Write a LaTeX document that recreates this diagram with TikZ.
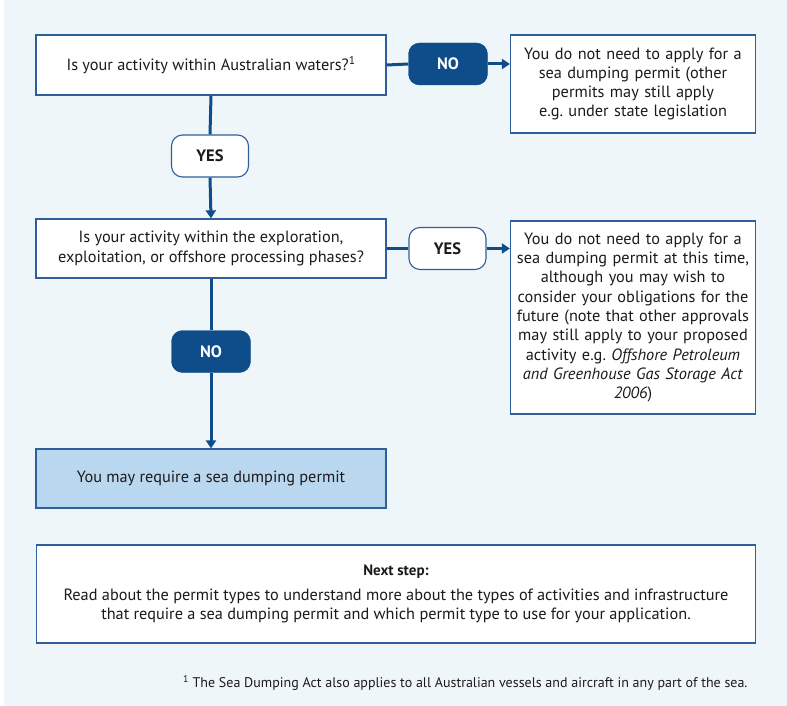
\documentclass[tikz,border=0pt]{standalone}
\usepackage{fontspec}
\setmainfont{PT Sans}
\usepackage{xcolor}
\usepackage{tikz}
\frenchspacing
\definecolor{navyblue}{RGB}{14, 77, 138}
\definecolor{edgeblue}{RGB}{47, 95, 154}
\definecolor{paleblue}{RGB}{239, 246, 250}
\definecolor{permitblue}{RGB}{185, 215, 238}
\definecolor{inktext}{RGB}{30, 26, 27}
\tikzset{
  qbox/.style={draw=edgeblue,fill=white,line width=1.3pt,minimum width=350pt,text=inktext,align=center,inner sep=0pt},
  ansbox/.style={draw=edgeblue,fill=white,line width=1.3pt,minimum width=245pt,text width=240pt,text=inktext,align=center,inner sep=0pt},
  darkpill/.style={fill=navyblue,draw=navyblue,text=white,rounded corners=11pt,minimum width=79pt,minimum height=42pt,font=\bfseries\fontsize{16.5}{18}\selectfont},
  lightpill/.style={fill=white,draw=edgeblue,line width=1.1pt,text=inktext,rounded corners=11pt,minimum width=77pt,minimum height=42pt,font=\bfseries\fontsize{16.5}{18}\selectfont},
  flow/.style={draw=navyblue,line width=3pt},
  flowarrow/.style={flow,-{Triangle[length=8pt,width=10pt]}}
}
\usetikzlibrary{arrows.meta}
\begin{document}
\begin{tikzpicture}[x=1pt,y=-1pt,font=\fontsize{16.3}{19.3}\selectfont]
    \useasboundingbox (0,0) rectangle (787,706);
    \fill[white] (0,0) rectangle (787,706);
    \fill[paleblue] (4,0) rectangle (787,706);

    % questions and answers
    \node[qbox,minimum height=60pt] (waters) at (211,65) {Is your activity within Australian waters?\textsuperscript{1}};
    \node[darkpill] (noA) at (448,64) {NO};
    \node[ansbox,minimum height=98pt] (notneeded) at (633,84) {You do not need to apply for a\\ sea dumping permit (other\\ permits may still apply\\ e.g. under state legislation};
    \node[lightpill] (yesA) at (210,156) {YES};

    \node[qbox,minimum height=59pt] (phases) at (211,248.5) {Is your activity within the exploration,\\ exploitation, or offshore processing phases?};
    \node[lightpill] (yesB) at (447.5,248.5) {YES};
    \node[ansbox,minimum height=193pt] (notnow) at (633,317.5) {You do not need to apply for a\\ sea dumping permit at this time,\\ although you may wish to\\ consider your obligations for the\\ future (note that other approvals\\ may still apply to your proposed\\ activity e.g. \textit{Offshore Petroleum}\\ \textit{and Greenhouse Gas Storage Act}\\ \textit{2006})};
    \node[darkpill] (noB) at (211,351.5) {NO};
    \node[qbox,fill=permitblue,minimum height=59pt] (permit) at (211,478.5) {You may require a sea dumping permit};

    % next step
    \node[qbox,minimum width=719pt,minimum height=98pt] (nextstep) at (396,594) {{\bfseries\fontsize{15}{17}\selectfont Next step:}\\[5pt] Read about the permit types to understand more about the types of activities and infrastructure\\ that require a sea dumping permit and which permit type to use for your application.};
    \node[anchor=east,text=inktext,font=\fontsize{14}{16}\selectfont] (footnote) at (751,683) {\textsuperscript{1} The Sea Dumping Act also applies to all Australian vessels and aircraft in any part of the sea.};

    % connectors
    \draw[flow] (waters.east) -- (noA.west);
    \draw[flowarrow] (noA.east) -- (noA.east -| notneeded.west);
    \draw[flow] (waters.south) -- (yesA.north);
    \draw[flowarrow] (yesA.south) -- (phases.north);
    \draw[flow] (phases.east) -- (yesB.west);
    \draw[flowarrow] (yesB.east) -- (yesB.east -| notnow.west);
    \draw[flow] (phases.south) -- (noB.north);
    \draw[flowarrow] (noB.south) -- (permit.north);
\end{tikzpicture}
\end{document}
